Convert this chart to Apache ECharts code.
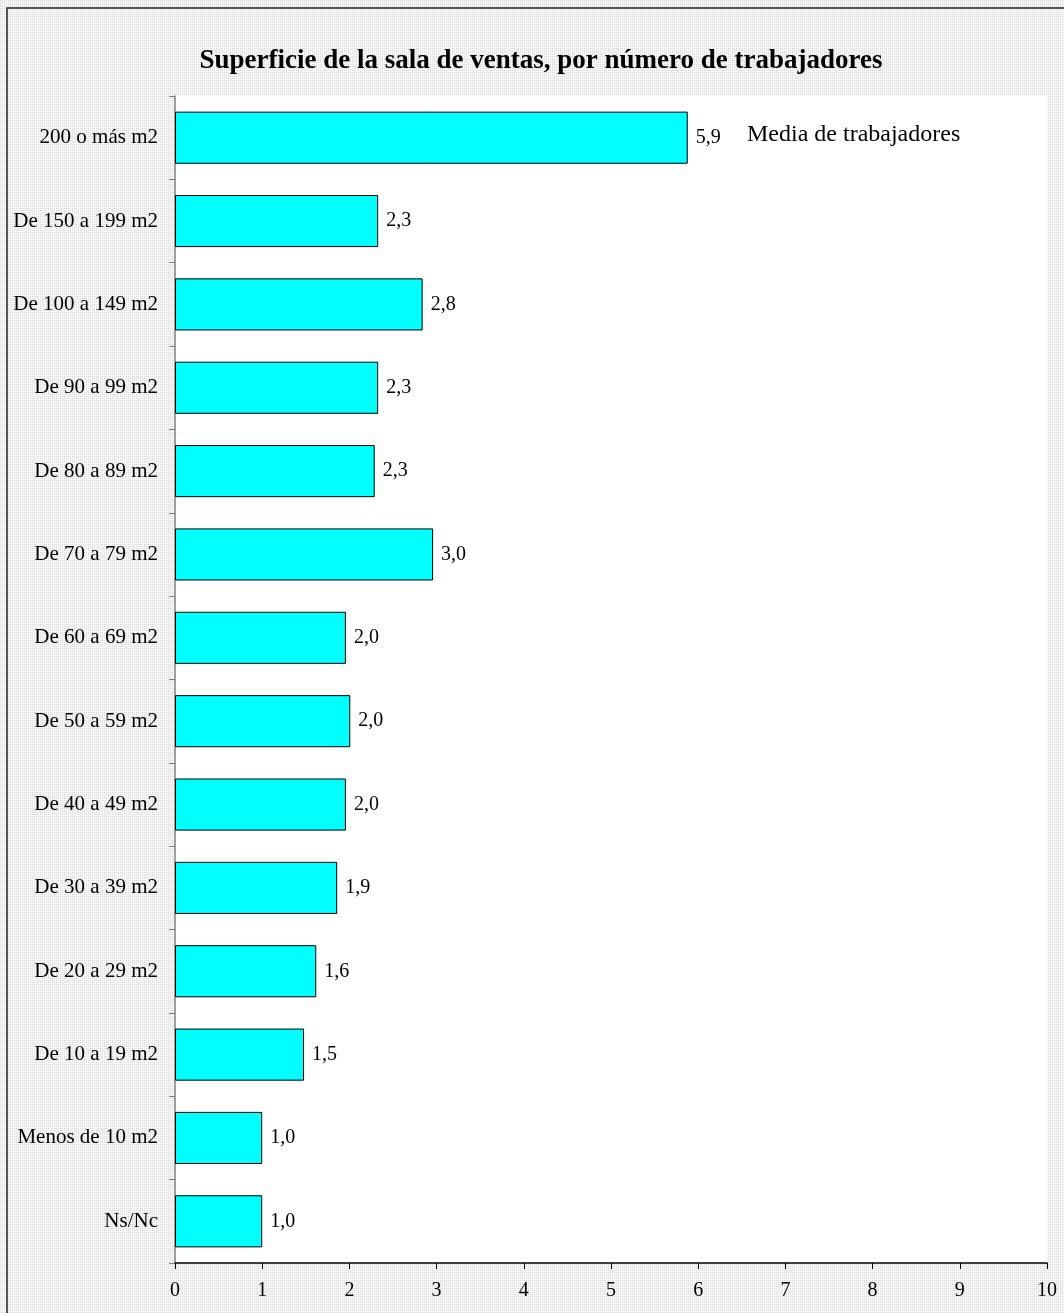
<!DOCTYPE html>
<html>
<head>
<meta charset="utf-8">
<script src="https://cdn.jsdelivr.net/npm/echarts@6/dist/echarts.min.js"></script>
<style>
html,body{margin:0;padding:0;background:#fff;}
#c{width:1064px;height:1313px;}
</style>
</head>
<body>
<div id="c"></div>
<script>
const categories = ["200 o más m2","De 150 a 199 m2","De 100 a 149 m2","De 90 a 99 m2","De 80 a 89 m2","De 70 a 79 m2","De 60 a 69 m2","De 50 a 59 m2","De 40 a 49 m2","De 30 a 39 m2","De 20 a 29 m2","De 10 a 19 m2","Menos de 10 m2","Ns/Nc"];
const values = [5.88,2.33,2.84,2.33,2.29,2.96,1.96,2.01,1.96,1.86,1.62,1.48,1.0,1.0];
const xTicks = [0,1,2,3,4,5,6,7,8,9,10];
const titleText = "Superficie de la sala de ventas, por número de trabajadores";
const seriesName = "Media de trabajadores";

const FONT = "'Liberation Serif','Times New Roman',serif";

// hatch background pattern
const pc = document.createElement('canvas');
pc.width = 2; pc.height = 2;
const pctx = pc.getContext('2d');
pctx.fillStyle = '#f6f6f6'; pctx.fillRect(0,0,2,2);
pctx.fillStyle = '#dadada'; pctx.fillRect(0,0,1,1);

const chart = echarts.init(document.getElementById('c'), null, {renderer:'canvas'});
chart.setOption({
  backgroundColor: {image: pc, repeat: 'repeat'},
  animation: false,
  title: {
    text: titleText,
    left: 536, top: 43, textAlign: 'center',
    textStyle: {fontFamily: FONT, fontWeight: 'bold', fontSize: 27, color: '#000'}
  },
  grid: {left: 175, top: 96, width: 872, height: 1167, show: true, backgroundColor: '#fff', borderWidth: 0},
  xAxis: {
    type: 'value', min: 0, max: 10, interval: 1,
    axisLine: {show: true, lineStyle: {color: '#000', width: 1.5}},
    axisTick: {show: true, length: 6, lineStyle: {color: '#000'}},
    splitLine: {show: false},
    axisLabel: {fontFamily: FONT, fontSize: 20, color: '#000', margin: 18,
      formatter: v => xTicks.includes(v) ? String(v) : ''}
  },
  yAxis: {
    type: 'category', data: categories, inverse: true,
    axisLine: {show: true, lineStyle: {color: '#808080', width: 1.5}},
    axisTick: {show: true, length: 6, lineStyle: {color: '#808080'}},
    axisLabel: {fontFamily: FONT, fontSize: 21, color: '#000', margin: 17}
  },
  graphic: [
    {type: 'text', left: 747, top: 123, style: {text: seriesName, font: '24px ' + FONT, fill: '#000'}},
    {type: 'rect', shape: {x: 7, y: 8, width: 1100, height: 1400}, style: {fill: 'none', stroke: '#222', lineWidth: 1.5}, silent: true}
  ],
  series: [{
    name: seriesName,
    type: 'bar',
    data: values,
    barCategoryGap: '37.5%',
    itemStyle: {color: '#00FFFF', borderColor: '#000', borderWidth: 1},
    label: {show: true, position: 'right', distance: 8, fontFamily: FONT, fontSize: 20, color: '#000',
      formatter: p => p.value.toFixed(1).replace('.', ',')}
  }]
});
</script>
</body>
</html>
